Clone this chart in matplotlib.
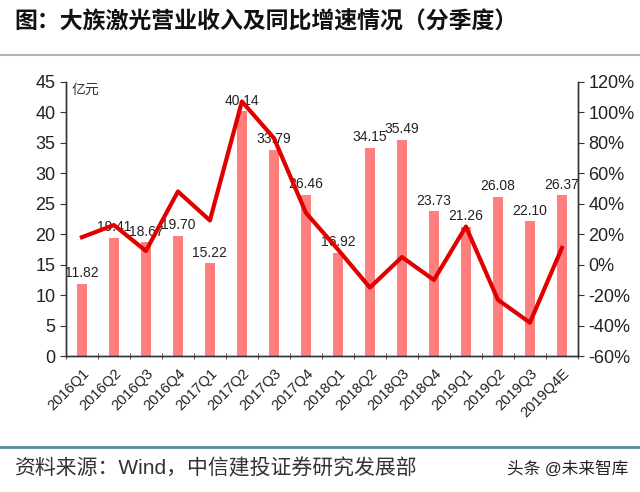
import numpy as np
import matplotlib
matplotlib.use("Agg")
from matplotlib import pyplot as plt
from matplotlib.ticker import FuncFormatter

plt.rcParams['font.family'] = ['Liberation Sans', 'Noto Sans CJK SC', 'DejaVu Sans']

# --- data ---
quarters = ["2016Q1", "2016Q2", "2016Q3", "2016Q4", "2017Q1", "2017Q2", "2017Q3", "2017Q4",
            "2018Q1", "2018Q2", "2018Q3", "2018Q4", "2019Q1", "2019Q2", "2019Q3", "2019Q4E"]
revenue = [11.82, 19.41, 18.67, 19.70, 15.22, 40.14, 33.79, 26.46,
           16.92, 34.15, 35.49, 23.73, 21.26, 26.08, 22.10, 26.37]
yoy = [18, 26, 9, 48, 29, 107, 83, 34,
       10, -15, 5, -10, 25, -23, -38, 11]

fig = plt.figure(figsize=(6.4, 4.92), dpi=100)
ax = fig.add_axes([0.103, 0.276, 0.8, 0.558])
ax2 = ax.twinx()

x = np.arange(len(quarters))
ax.bar(x, revenue, width=0.3, color="#FF7F7F", zorder=2)
for i in range(len(x)):
    ax.text(x[i], revenue[i] + 0.6, "%.2f" % revenue[i], ha="center", va="bottom",
            fontsize=10, color="#222222", zorder=5)

ax2.plot(x, yoy, color="#E00000", lw=3, zorder=3)

ax.set_xlim(-0.5, len(x) - 0.5)
ax.set_ylim(0, 45)
ax.set_yticks(np.arange(0, 46, 5))
ax2.set_ylim(-60, 120)
ax2.set_yticks(np.arange(-60, 121, 20))
ax2.yaxis.set_major_formatter(FuncFormatter(lambda v, p: "%d%%" % v))

ax.set_xticks(x)
ax.set_xticklabels(quarters, rotation=45, ha="right", rotation_mode="anchor", fontsize=10.5, color="#222222")
ax.set_xticks(np.arange(-0.5, len(x), 1), minor=True)
ax.tick_params(axis="x", which="major", length=0, pad=7)
ax.tick_params(axis="x", which="minor", length=5, direction="inout", color="#333333")
ax.tick_params(axis="y", labelsize=13, length=4, color="#333333", labelcolor="#222222")
ax2.tick_params(axis="y", labelsize=13, length=4, color="#333333", labelcolor="#222222")

for a in (ax, ax2):
    a.spines["top"].set_visible(False)
    for s in ("left", "right", "bottom"):
        a.spines[s].set_color("#333333")
        a.spines[s].set_linewidth(1.0)

ax.text(0.012, 0.995, "亿元", transform=ax.transAxes, fontsize=10, style="italic",
        color="#333333", va="top", ha="left")

# title and source
fig.text(0.022, 0.955, "图：大族激光营业收入及同比增速情况（分季度）", fontsize=16.5,
         fontweight="bold", va="center", ha="left", color="#111111")
fig.add_artist(plt.Line2D([0, 1], [0.889, 0.889], color="#A9B8C0", lw=1.5))
fig.add_artist(plt.Line2D([0, 1], [0.091, 0.091], color="#5B8A94", lw=2))
fig.text(0.022, 0.048, "资料来源：Wind，中信建投证券研究发展部", fontsize=15,
         va="center", ha="left", color="#333333")
fig.text(0.982, 0.048, "头条 @未来智库", fontsize=12, va="center", ha="right", color="#222222")

plt.savefig("out.png", dpi=100)
